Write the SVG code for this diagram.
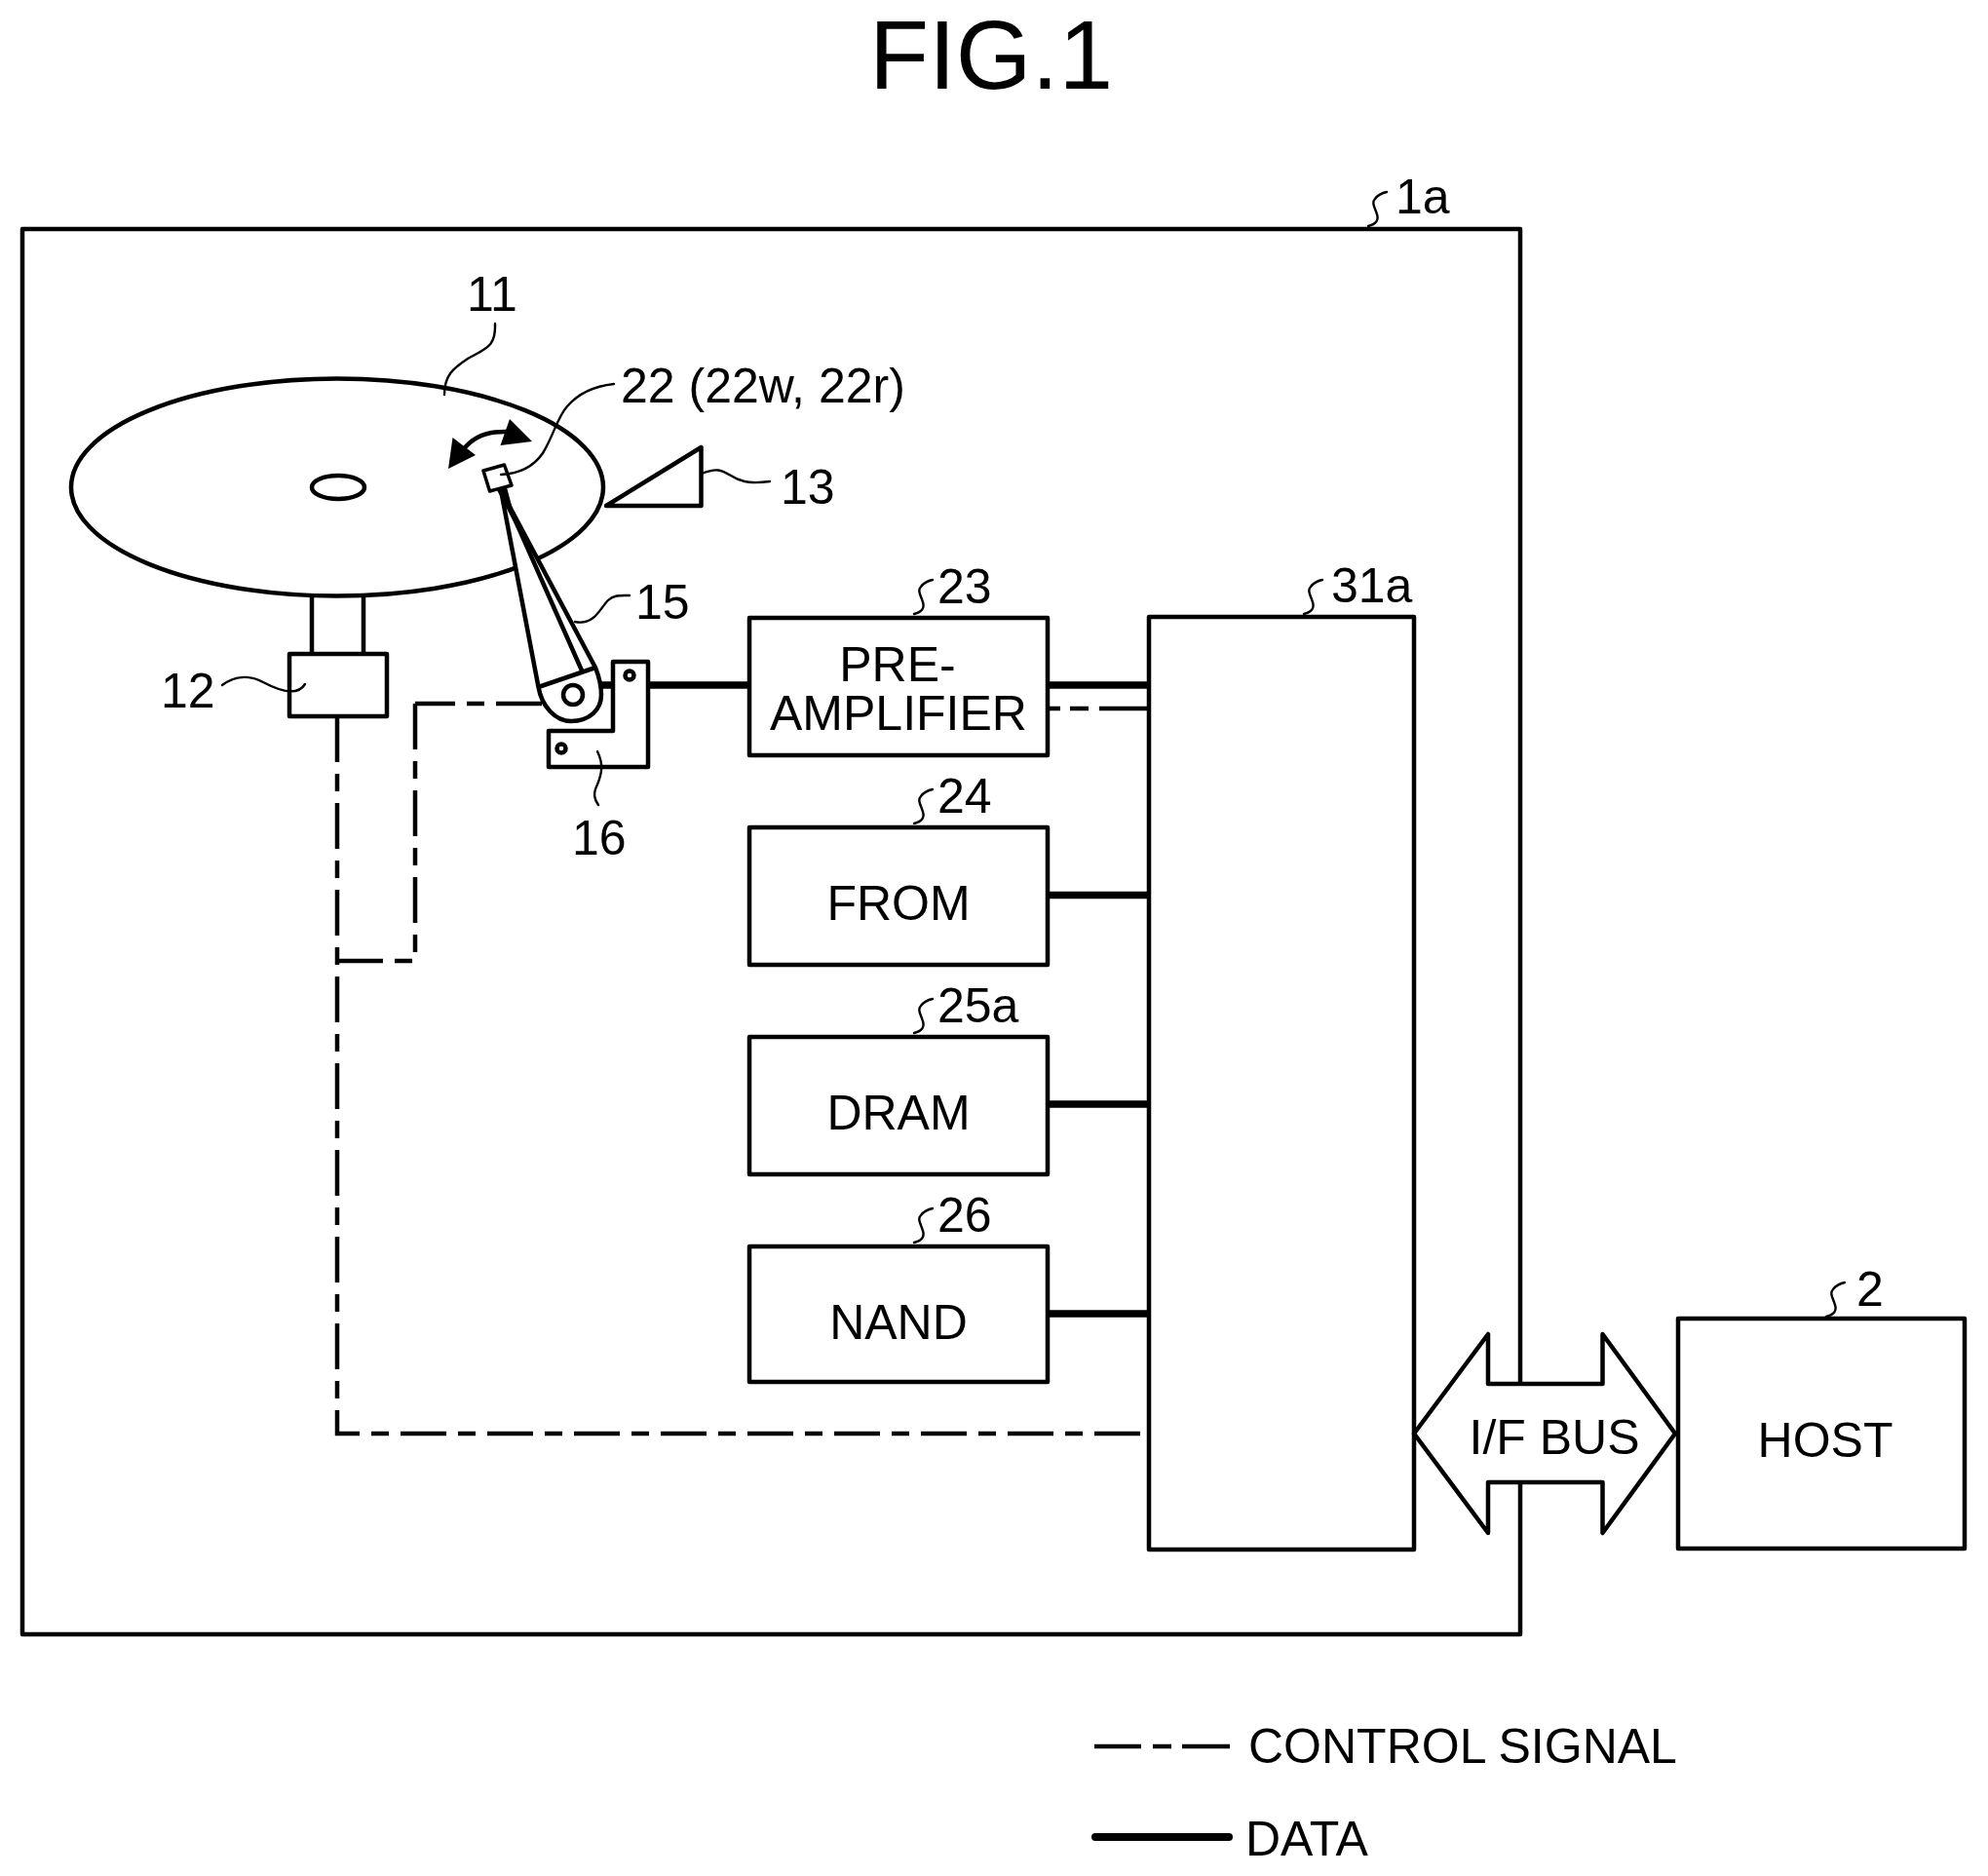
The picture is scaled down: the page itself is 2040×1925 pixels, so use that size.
<svg xmlns="http://www.w3.org/2000/svg" width="2040" height="1925" viewBox="0 0 2040 1925">
<style>
text{font-family:"Liberation Sans",Arial,sans-serif;font-size:50px;fill:#000}
.c{text-anchor:middle}
.b{fill:#fff;stroke:#000;stroke-width:4.5;stroke-linejoin:round}
.n{fill:none;stroke:#000;stroke-width:4.5;stroke-linejoin:round}
.l{fill:none;stroke:#000;stroke-width:2.4;stroke-linecap:round}
.d{fill:none;stroke:#000;stroke-width:7.5}
.s{fill:none;stroke:#000;stroke-width:4.5;stroke-dasharray:47 12 18 12}
.s2{fill:none;stroke:#000;stroke-width:4.5;stroke-dasharray:47 12 18 12;stroke-dashoffset:0}
</style>
<defs><path id="lead" class="l" d="M0 0C8-2 11-6 9-12C7-19 3-24 7-28C10-32 14-34 19-35"/></defs>
<rect width="2040" height="1925" fill="#fff"/>
<text class="c" x="1017" y="91" style="font-size:100px">FIG.1</text>
<g id="device-1a"><rect class="n" x="23" y="235" width="1537" height="1442"/><use href="#lead" x="1404" y="232"/><text x="1432" y="219">1a</text></g>
<g id="connectors">
<path class="s" d="M346 735V1471H1178"/>
<path class="s" d="M346 986H426"/>
<path class="s" d="M426 722V986"/>
<path class="s" d="M556 722H426"/>
<path class="s" style="stroke-dasharray:13 10 19 11 50" d="M1075 727H1178"/>
<path class="d" d="M617 703H632M665 703H767M1076 703H1178M1076 918.500H1178M1076 1133H1178M1076 1348H1178"/>
</g>
<g id="disk-11">
<path class="n" d="M320 611V670M373 611V670"/>
<ellipse class="b" cx="346" cy="500" rx="273" ry="111.500"/>
<ellipse class="b" cx="347" cy="500" rx="27" ry="12"/>
<path class="l" d="M456 405C456 385 465 378 480 368C500 357 509 355 508 332"/>
<text x="479" y="319">11</text>
</g>
<g id="motor-12"><rect class="b" x="297" y="671" width="100" height="64"/><path class="l" d="M228 703C240 694 255 692 270 700C285 708 305 715 313 702"/><text x="165" y="726">12</text></g>
<g id="ramp-13"><path class="b" d="M622 519L719.500 459V519Z"/><path class="l" d="M720 486C735 480 740 482 750 488C762 496 775 496 790 494"/><text x="801" y="517">13</text></g>
<g id="bracket-16"><path class="b" d="M629 679H665V787H563V750H629Z"/><circle class="n" cx="646" cy="693" r="4.500"/><circle class="n" cx="576" cy="768" r="4.500"/><path class="l" d="M613 771C620 785 617 795 613 805C608 815 610 820 614 826"/><text x="587" y="877">16</text></g>
<g id="arm-15">
<path class="b" d="M514 503L552.500 705C556 725 570 740 586 740C605 740 617 728 617 713C617 702 615 695 611 685Z"/>
<path class="n" d="M552.500 705L611 685M515 503L597 688"/>
<circle class="n" cx="588" cy="713" r="10"/>
<path fill="#000" d="M510 503L520 500L532 545Z"/>
<path class="l" d="M590 638C610 642 615 625 624 616C630 610 638 611 646 611"/>
<text x="652" y="635">15</text>
</g>
<g id="head-22">
<path class="b" style="stroke-width:3.500" d="M496 483L517.500 477L525 498L502.500 504Z"/>
<path class="l" d="M514 487C535 486 548 478 557 465C568 447 572 428 582 417C594 403 612 396 630 394"/>
<text x="637" y="413">22 (22w, 22r)</text>
</g>
<g id="seek-arrow"><path class="n" d="M475 462C485 448 500 442 522 443"/><path fill="#000" d="M460 481L464.500 449L488 467Z"/><path fill="#000" d="M546 453L523 430L513.500 457Z"/></g>
<g id="preamp-23"><rect class="b" x="769" y="634" width="306" height="141"/><text class="c" x="921" y="699" style="letter-spacing:0">PRE-</text><text class="c" x="922" y="749">AMPLIFIER</text><use href="#lead" x="938" y="630"/><text x="962" y="619">23</text></g>
<g id="from-24"><rect class="b" x="769" y="849" width="306" height="141"/><text class="c" x="922" y="944">FROM</text><use href="#lead" x="938" y="845"/><text x="962" y="834">24</text></g>
<g id="dram-25a"><rect class="b" x="769" y="1064" width="306" height="141"/><text class="c" x="922" y="1159">DRAM</text><use href="#lead" x="938" y="1060"/><text x="962" y="1049">25a</text></g>
<g id="nand-26"><rect class="b" x="769" y="1279" width="306" height="139"/><text class="c" x="922" y="1374">NAND</text><use href="#lead" x="938" y="1275"/><text x="962" y="1264">26</text></g>
<g id="controller-31a"><rect class="b" x="1179" y="633" width="272" height="957"/><use href="#lead" x="1338" y="630"/><text x="1366" y="618">31a</text></g>
<g id="if-bus"><path class="b" d="M1451 1471L1527 1369V1420H1644.500V1369L1719 1471L1644.500 1573V1521H1527V1573Z"/><text class="c" x="1595" y="1492">I/F BUS</text></g>
<g id="host-2"><rect class="b" x="1722" y="1353" width="294" height="236"/><text class="c" x="1873" y="1495">HOST</text><use href="#lead" x="1874" y="1351"/><text x="1905" y="1340">2</text></g>
<g id="legend">
<path class="n" d="M1123 1792H1171M1183 1792H1202M1213 1792H1262"/>
<path class="d" style="stroke-width:8;stroke-linecap:round" d="M1124 1885H1261"/>
<text x="1281" y="1809">CONTROL SIGNAL</text>
<text x="1278" y="1904">DATA</text>
</g>
</svg>
